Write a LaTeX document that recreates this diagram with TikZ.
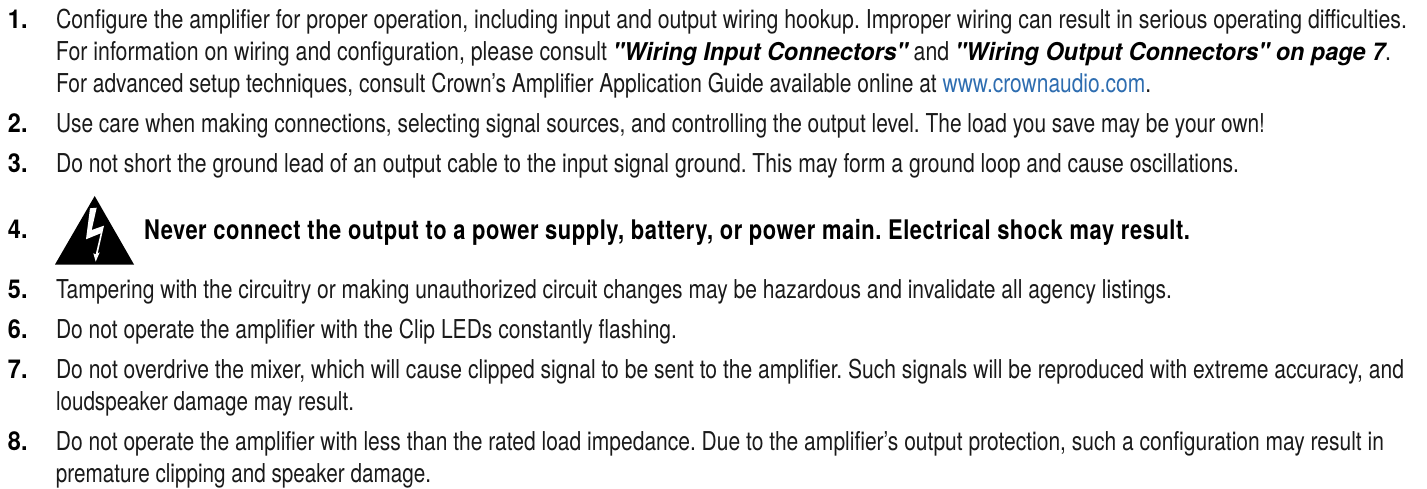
\documentclass[tikz,border=0pt]{standalone}
\usepackage{fontspec}
\setmainfont{TeX Gyre Heros}[FakeStretch=0.815]
\newfontfamily\refsfont{TeX Gyre Heros}[FakeStretch=0.95]
\newfontfamily\warnfont{TeX Gyre Heros}[FakeStretch=0.8,LetterSpace=2]
\newfontfamily\numfont{TeX Gyre Heros}[FakeStretch=0.9]
\definecolor{linkblue}{HTML}{2E6DB0}
\definecolor{bodyink}{HTML}{1A1A1A}
\frenchspacing
\tikzset{
	itemline/.style={anchor=base west,inner sep=0pt,outer sep=0pt,text=bodyink,font=\fontsize{26}{32}\selectfont},
	itemnum/.style={anchor=base west,inner sep=0pt,outer sep=0pt,font=\numfont\bfseries\fontsize{26}{32}\selectfont},
}
\newcommand{\refbold}[1]{{\refsfont\bfseries\itshape\fontsize{24.5}{32}\selectfont\color{black} #1}}
\newcommand{\fitline}[2]{\resizebox{#1pt}{\height}{#2}}
\begin{document}
\begin{tikzpicture}[x=1pt,y=-1pt]
	\useasboundingbox (0,0) rectangle (1427,489);
	%item numbers
	\node[itemnum] (numa) at (8,29){1.};
	\node[itemnum] (numb) at (8,133){2.};
	\node[itemnum] (numc) at (8,173){3.};
	\node[itemnum] (numd) at (8,239){4.};
	\node[itemnum] (nume) at (8,298){5.};
	\node[itemnum] (numf) at (8,338){6.};
	\node[itemnum] (numg) at (8,378){7.};
	\node[itemnum] (numh) at (8,450){8.};
	%item texts
	\node[itemline] (linea) at (56,29){\fitline{1351}{Configure the amplifier for proper operation, including input and output wiring hookup. Improper wiring can result in serious operating difficulties.}};
	\node[itemline] (lineb) at (56,61){\fitline{1335}{For information on wiring and configuration, please consult \refbold{"Wiring Input Connectors"} and \refbold{"Wiring Output Connectors" on page 7}.}};
	\node[itemline] (linec) at (56,93){\fitline{1095}{For advanced setup techniques, consult Crown’s Amplifier Application Guide available online at \textcolor{linkblue}{www.crownaudio.com}.}};
	\node[itemline] (lined) at (56,133){\fitline{1209}{Use care when making connections, selecting signal sources, and controlling the output level. The load you save may be your own!}};
	\node[itemline] (linee) at (56,173){\fitline{1183}{Do not short the ground lead of an output cable to the input signal ground. This may form a ground loop and cause oscillations.}};
	\node[itemline,font=\warnfont\bfseries\fontsize{27}{32}\selectfont,text=black] (linef) at (144,240){\fitline{1046}{Never connect the output to a power supply, battery, or power main. Electrical shock may result.}};
	\node[itemline] (lineg) at (56,298){\fitline{1116}{Tampering with the circuitry or making unauthorized circuit changes may be hazardous and invalidate all agency listings.}};
	\node[itemline] (lineh) at (56,338){\fitline{621}{Do not operate the amplifier with the Clip LEDs constantly flashing.}};
	\node[itemline] (linei) at (56,378){\fitline{1348}{Do not overdrive the mixer, which will cause clipped signal to be sent to the amplifier. Such signals will be reproduced with extreme accuracy, and}};
	\node[itemline] (linej) at (56,410){\fitline{298}{loudspeaker damage may result.}};
	\node[itemline] (linek) at (56,450){\fitline{1328}{Do not operate the amplifier with less than the rated load impedance. Due to the amplifier’s output protection, such a configuration may result in}};
	\node[itemline] (linel) at (56,482){\fitline{375}{premature clipping and speaker damage.}};
	%warning triangle
	\fill (94.7,196)--(134,264.5)--(55,264.5)--cycle;
	\fill[white] (90,208.3)--(96.7,207.7)--(91.7,230)--(104,225.7)--(97.7,253.3)--(99.7,252.3)--(95.7,261.7)--(93.3,253.3)--(95.7,254.3)--(100.7,233.3)--(86,239.3)--cycle;
\end{tikzpicture}
\end{document}
